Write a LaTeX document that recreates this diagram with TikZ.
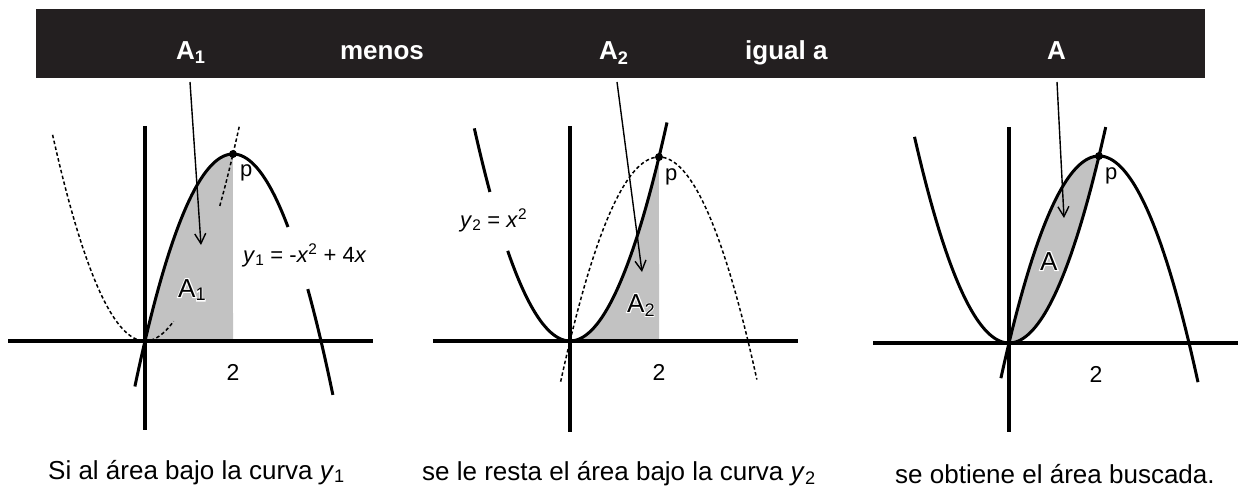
\documentclass[tikz,border=0pt]{standalone}
\usepackage{fontspec}
\setmainfont{Liberation Sans}
\newfontfamily\halofont[FakeBold=8]{Liberation Sans}
\usetikzlibrary{arrows.meta}
\definecolor{barra}{RGB}{35,31,32}
\definecolor{sombra}{RGB}{194,194,194}
\newcommand\comhalo[1]{\rlap{\color{white}\halofont #1}#1}

\begin{document}
\begin{tikzpicture}[x=1pt,y=-1pt,
    eixo/.style={line width=4pt, black},
    curva/.style={line width=3pt, black},
    tracejada/.style={line width=1.5pt, dash pattern=on 3.5pt off 2.5pt},
    seta/.style={line width=1.4pt, -{Straight Barb[length=10pt,width=11pt,line width=1.4pt]}},
    titulo/.style={text=white, font=\fontsize{26}{30}\selectfont\bfseries, inner sep=0pt},
    rotulo/.style={font=\fontsize{22}{26}\selectfont, anchor=base west, inner sep=0pt},
    area/.style={font=\fontsize{26}{30}\selectfont, anchor=base west, inner sep=0pt},
    legenda/.style={font=\fontsize{26}{30}\selectfont, anchor=base west, inner sep=0pt}]

    \useasboundingbox (0,0) rectangle (1239,489);

    % 1. FUNÇÕES (y1 = -x^2 + 4x , y2 = x^2)
    \def\ya(#1){-(#1)*(#1)+4*(#1)}
    \def\yb(#1){(#1)*(#1)}

    % ==========================================
    % 2. FAIXA PRETA DO TÍTULO
    % ==========================================
    \fill[barra] (36,9) rectangle (1205,78);
    \node[titulo, anchor=base west] (tA1) at (176,60) {A\textsubscript{1}};
    \node[titulo, anchor=base] (tmenos) at (382,60) {menos};
    \node[titulo, anchor=base west] (tA2) at (599,60) {A\textsubscript{2}};
    \node[titulo, anchor=base west] (tigual) at (745,60) {igual a};
    \node[titulo, anchor=base west] (tA) at (1047,60) {A};

    % ==========================================
    % 3. GRÁFICO 1: área sob y1
    % ==========================================
    \begin{scope}[shift={(145,341)}, x=44pt, y=46.75pt]
        % Preenchimento cinza (0 até 2)
        \fill[sombra] (0,0) -- plot[domain=0:2, samples=40] (\x,{\ya(\x)}) -- (2,0) -- cycle;
        \draw[eixo] (-3.11,0) -- (5.18,0);
        \draw[eixo] (0,4.6) -- (0,-1.9);
        \draw[curva] plot[domain=-0.23:3.25, samples=60, smooth] (\x,{\ya(\x)});
        \draw[curva] plot[domain=3.7:4.27, samples=10] (\x,{\ya(\x)});
        \draw[tracejada] plot[domain=-2.1:0.65, samples=60, smooth] (\x,{\yb(\x)});
        \draw[tracejada] plot[domain=1.7:2.15, samples=10, smooth] (\x,{\yb(\x)});
        \fill (2,4) circle (4pt);
    \end{scope}
    \node[rotulo] (p1) at (240,177) {p};
    \node[rotulo] (y1) at (243,262) {\textit{y}\textsubscript{1} = -\textit{x}\textsuperscript{2} + 4\textit{x}};
    \node[rotulo, font=\fontsize{23}{26}\selectfont, anchor=base] (dois1) at (233,380) {2};
    \node[area] (aA1) at (178,297) {\comhalo{A\textsubscript{1}}};

    % ==========================================
    % 4. GRÁFICO 2: área sob y2
    % ==========================================
    \begin{scope}[shift={(570,341)}, x=44.5pt, y=46pt]
        \fill[sombra] (0,0) -- plot[domain=0:2, samples=40] (\x,{\yb(\x)}) -- (2,0) -- cycle;
        \draw[eixo] (-3.08,0) -- (5.12,0);
        \draw[eixo] (0,4.67) -- (0,-1.98);
        \draw[curva] plot[domain=-2.15:-1.8, samples=10] (\x,{\yb(\x)});
        \draw[curva] plot[domain=-1.4:2.18, samples=60, smooth] (\x,{\yb(\x)});
        \draw[tracejada] plot[domain=-0.21:4.2, samples=80, smooth] (\x,{\ya(\x)});
        \fill (2,4) circle (4pt);
    \end{scope}
    \node[rotulo] (p2) at (665,181) {p};
    \node[rotulo] (y2) at (460,227) {\textit{y}\textsubscript{2} = \textit{x}\textsuperscript{2}};
    \node[rotulo, font=\fontsize{23}{26}\selectfont, anchor=base] (dois2) at (659,380) {2};
    \node[area] (aA2) at (627,312) {\comhalo{A\textsubscript{2}}};

    % ==========================================
    % 5. GRÁFICO 3: área entre as curvas
    % ==========================================
    \begin{scope}[shift={(1009,343)}, x=45pt, y=46.75pt]
        \fill[sombra] plot[domain=0:2, samples=40] (\x,{\ya(\x)}) -- plot[domain=2:0, samples=40] (\x,{\yb(\x)}) -- cycle;
        \draw[eixo] (-3.02,0) -- (5.09,0);
        \draw[eixo] (0,4.62) -- (0,-1.9);
        \draw[curva] plot[domain=-0.18:4.2, samples=80, smooth] (\x,{\ya(\x)});
        \draw[curva] plot[domain=-2.1:2.15, samples=80, smooth] (\x,{\yb(\x)});
        \fill (2,4) circle (4pt);
    \end{scope}
    \node[rotulo] (p3) at (1105,180) {p};
    \node[rotulo, font=\fontsize{23}{26}\selectfont, anchor=base] (dois3) at (1096,382) {2};
    \node[area] (aA) at (1040,270) {\comhalo{A}};

    % ==========================================
    % 6. SETAS DO TÍTULO ATÉ AS ÁREAS
    % ==========================================
    \coordinate (sA1) at (190,82);  \coordinate (fA1) at (201,245);
    \coordinate (sA2) at (617,82);  \coordinate (fA2) at (642,272);
    \coordinate (sA)  at (1057,82); \coordinate (fA)  at (1064,218);
    \draw[seta] (sA1) -- (fA1);
    \draw[seta] (sA2) -- (fA2);
    \draw[seta] (sA) -- (fA);

    % Legendas de baixo
    \node[legenda] (leg1) at (48,479) {Si al área bajo la curva \textit{y}\textsubscript{1}};
    \node[legenda] (leg2) at (422,480) {se le resta el área bajo la curva \textit{y}\textsubscript{2}};
    \node[legenda] (leg3) at (895,483) {se obtiene el área buscada.};
\end{tikzpicture}
\end{document}
